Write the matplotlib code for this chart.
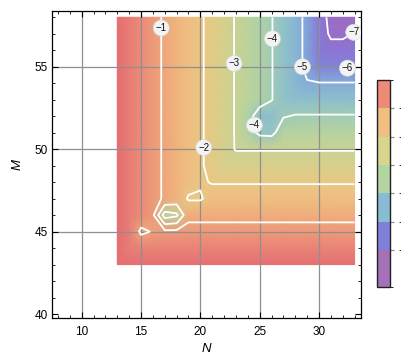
import numpy as np
import matplotlib
matplotlib.use('Agg')
import matplotlib.pyplot as plt
import matplotlib.colorbar as mcolorbar
from matplotlib.colors import LinearSegmentedColormap, ListedColormap, BoundaryNorm
from matplotlib.ticker import MultipleLocator

plt.rcParams['font.family'] = ['Liberation Sans', 'DejaVu Sans']
plt.rcParams['contour.negative_linestyle'] = 'solid'

# grid of the data (N across, M up)
n_vals = [13, 14, 15, 16, 17, 18, 19, 20, 21, 22, 23, 24, 25, 26, 27, 28, 29, 30, 31, 32, 33]
m_vals = [43, 44, 45, 46, 47, 48, 49, 50, 51, 52, 53, 54, 55, 56, 57, 58]

# values, one row per M
z_rows = [
    [0.00, 0.00, 0.00, 0.00, 0.00, 0.00, 0.00, 0.00, 0.00, 0.00, 0.00, 0.00, 0.00, 0.00, 0.00, 0.00, 0.00, 0.00, 0.00, 0.00, 0.00],
    [0.00, -0.27, -0.38, -0.38, -0.38, -0.38, -0.38, -0.38, -0.38, -0.38, -0.38, -0.38, -0.38, -0.38, -0.38, -0.38, -0.38, -0.38, -0.38, -0.38, -0.38],
    [0.00, -0.27, -1.15, -0.95, -0.77, -0.77, -0.77, -0.77, -0.77, -0.77, -0.77, -0.77, -0.77, -0.77, -0.77, -0.77, -0.77, -0.77, -0.77, -0.77, -0.77],
    [0.00, -0.27, -0.54, -0.81, -3.50, -3.20, -1.18, -1.18, -1.18, -1.18, -1.18, -1.18, -1.18, -1.18, -1.18, -1.18, -1.18, -1.18, -1.18, -1.18, -1.18],
    [0.00, -0.27, -0.54, -0.81, -1.08, -1.36, -2.10, -2.10, -1.64, -1.64, -1.64, -1.64, -1.64, -1.64, -1.64, -1.64, -1.64, -1.64, -1.64, -1.64, -1.64],
    [0.00, -0.27, -0.54, -0.81, -1.08, -1.36, -1.64, -1.90, -2.05, -2.05, -2.05, -2.05, -2.05, -2.05, -2.05, -2.05, -2.05, -2.05, -2.05, -2.05, -2.05],
    [0.00, -0.27, -0.54, -0.81, -1.08, -1.36, -1.64, -1.90, -2.25, -2.57, -2.57, -2.57, -2.57, -2.57, -2.57, -2.57, -2.57, -2.57, -2.57, -2.57, -2.57],
    [0.00, -0.27, -0.54, -0.81, -1.08, -1.36, -1.64, -1.90, -2.25, -2.68, -3.05, -3.05, -3.05, -3.05, -3.05, -3.05, -3.05, -3.05, -3.05, -3.05, -3.05],
    [0.00, -0.27, -0.54, -0.81, -1.08, -1.36, -1.64, -1.90, -2.25, -2.68, -3.06, -3.60, -4.20, -4.25, -3.50, -3.50, -3.50, -3.50, -3.50, -3.50, -3.50],
    [0.00, -0.27, -0.54, -0.81, -1.08, -1.36, -1.64, -1.90, -2.25, -2.68, -3.06, -3.70, -4.40, -4.50, -4.05, -3.95, -3.95, -3.95, -3.95, -3.95, -3.95],
    [0.00, -0.27, -0.54, -0.81, -1.08, -1.36, -1.64, -1.90, -2.25, -2.68, -3.06, -3.36, -3.67, -3.97, -4.36, -4.47, -4.47, -4.47, -4.47, -4.47, -4.47],
    [0.00, -0.27, -0.54, -0.81, -1.08, -1.36, -1.64, -1.90, -2.25, -2.68, -3.06, -3.36, -3.67, -3.97, -4.36, -4.70, -4.95, -4.95, -4.95, -4.95, -4.95],
    [0.00, -0.27, -0.54, -0.81, -1.08, -1.36, -1.64, -1.90, -2.25, -2.68, -3.06, -3.36, -3.67, -3.97, -4.36, -4.70, -5.20, -6.10, -6.10, -6.10, -6.10],
    [0.00, -0.27, -0.54, -0.81, -1.08, -1.36, -1.64, -1.90, -2.25, -2.68, -3.06, -3.36, -3.67, -3.97, -4.36, -4.70, -5.20, -6.50, -6.70, -6.70, -6.70],
    [0.00, -0.27, -0.54, -0.81, -1.08, -1.36, -1.64, -1.90, -2.25, -2.68, -3.06, -3.36, -3.67, -3.97, -4.36, -4.70, -5.20, -6.50, -7.15, -7.15, -6.95],
    [0.00, -0.27, -0.54, -0.81, -1.08, -1.36, -1.64, -1.90, -2.25, -2.68, -3.06, -3.36, -3.67, -3.97, -4.36, -4.70, -5.20, -6.50, -7.30, -7.35, -7.35],
]

line_levels = [-7, -5, -4, -3, -2, -1]
label_spots = [(16.6, 57.35), (20.3, 50.1), (22.8, 55.2), (26.1, 56.7),
               (25.0, 51.5), (28.6, 55.0), (32.4, 57.5)]
label_spot_6 = [(32.4, 54.75)]

cbar_bounds = [-7.3, -6, -5, -4, -3, -2, -1, 0]
cbar_colors = ['#a470b8', '#7e80da', '#88bcd2', '#b4d4a2', '#d8d68e', '#f0be80', '#ee8a78']
cbar_ticks = [-6, -5, -4, -3, -2, -1]

# smooth colour function for the field
anchor_vals = [-7.3, -6.6, -6.0, -5.4, -4.8, -4.3, -3.7, -3.0, -2.4, -1.8, -1.2, -0.6, 0.0]
anchor_cols = ['#9c6cc4', '#8a76d6', '#7f86da', '#7f9cdc', '#86b2d6', '#92c4c6', '#aed2a6',
               '#cad292', '#ddce88', '#eec482', '#f0ae7c', '#ec9078', '#e56e72']
cmap = LinearSegmentedColormap.from_list(
    'field', [((v + 7.3) / 7.3, c) for v, c in zip(anchor_vals, anchor_cols)])

Z = np.array(z_rows)
X, Y = np.meshgrid(n_vals, m_vals)

fig = plt.figure(figsize=(4.02, 3.59), dpi=100)
ax = fig.add_axes([0.1286, 0.1142, 0.7694, 0.856])

ax.pcolormesh(X, Y, Z, shading='gouraud', cmap=cmap, vmin=-7.3, vmax=0, zorder=1)

# grid lines like the original frame
for g in [10, 15, 20, 25, 30]:
    ax.axvline(g, color='#8f8f8f', linewidth=0.9, zorder=1.5)
for g in [45, 50, 55]:
    ax.axhline(g, color='#8f8f8f', linewidth=0.9, zorder=1.5)

cs = ax.contour(X, Y, Z, levels=line_levels, colors='white', linewidths=1.3,
                linestyles='solid', zorder=2)
labels = ax.clabel(cs, fmt=lambda v: '\u2212%d' % abs(v), manual=label_spots,
                   inline=True, inline_spacing=3, fontsize=7, colors='#111111')
cs6 = ax.contour(X, Y, Z, levels=[-6], colors='white', linewidths=0, zorder=2)
labels6 = ax.clabel(cs6, fmt=lambda v: '\u2212%d' % abs(v), manual=label_spot_6,
                    inline=False, fontsize=7, colors='#111111')
for t in list(labels) + list(labels6):
    t.set_rotation(0)
    t.set_bbox(dict(boxstyle='circle,pad=0.25', fc='#f3f3f3', ec='#d8d8d8', lw=0.5))
    t.set_zorder(3)

ax.set_xlim(7.47, 33.54)
ax.set_ylim(39.76, 58.4)
ax.set_xticks([10, 15, 20, 25, 30])
ax.set_yticks([40, 45, 50, 55])
ax.xaxis.set_minor_locator(MultipleLocator(1))
ax.yaxis.set_minor_locator(MultipleLocator(1))
ax.tick_params(which='both', direction='in', top=True, right=True, labelsize=8.5)
ax.tick_params(which='major', length=4, width=0.8)
ax.tick_params(which='minor', length=2.2, width=0.6)
ax.tick_params(axis='x', pad=5.5)
ax.tick_params(axis='y', pad=2.5)
for s in ax.spines.values():
    s.set_linewidth(0.9)

ax.set_xlabel('N', style='italic', fontsize=9.5, labelpad=4)
ax.set_ylabel('M', style='italic', fontsize=9.5, labelpad=8)

# legend bar at right
cax = fig.add_axes([0.938, 0.2006, 0.032, 0.5766])
cb = mcolorbar.ColorbarBase(cax, cmap=ListedColormap(cbar_colors),
                            norm=BoundaryNorm(cbar_bounds, len(cbar_colors)),
                            boundaries=cbar_bounds, spacing='proportional',
                            ticks=cbar_ticks)
cb.set_ticklabels(['\u2212%d' % abs(v) for v in cbar_ticks])
cb.outline.set_linewidth(1.0)
cb.outline.set_edgecolor('#222222')
cax.tick_params(direction='out', length=3, width=0.9, color='#8f8f8f', labelsize=8, pad=3)

fig.savefig('out.png', dpi=100)
